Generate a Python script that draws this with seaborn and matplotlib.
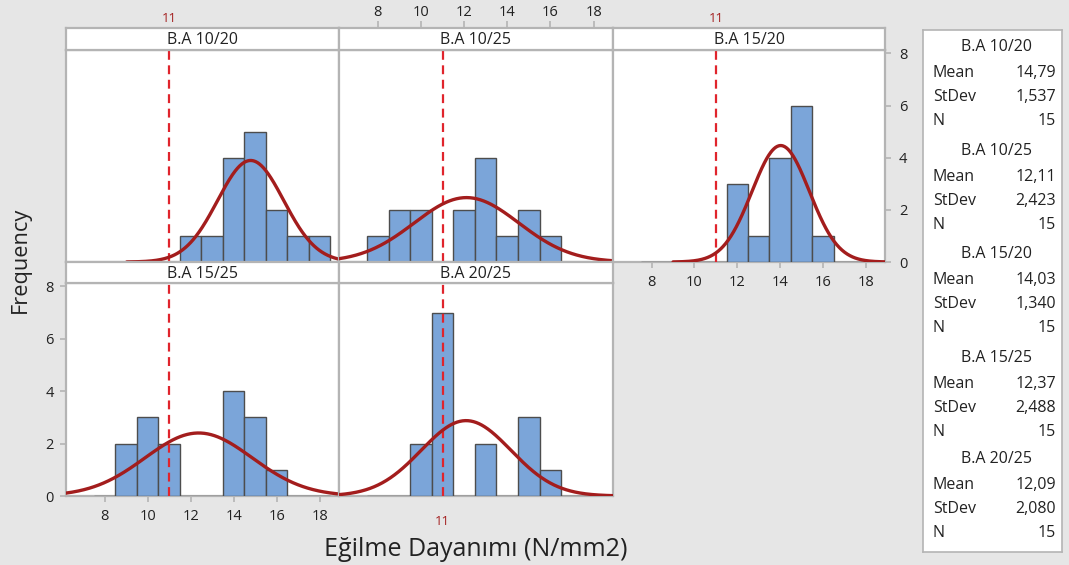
import numpy as np
import pandas as pd
import matplotlib
matplotlib.use("Agg")
import matplotlib.pyplot as plt
import seaborn as sns

# ---------------- data ----------------
groups = ["B.A 10/20", "B.A 10/25", "B.A 15/20", "B.A 15/25", "B.A 20/25"]
bin_centers = [8, 9, 10, 11, 12, 13, 14, 15, 16, 17, 18]
counts_10_20 = [0, 0, 0, 0, 1, 1, 4, 5, 2, 1, 1]
counts_10_25 = [1, 2, 2, 0, 2, 4, 1, 2, 1, 0, 0]
counts_15_20 = [0, 0, 0, 0, 3, 1, 4, 6, 1, 0, 0]
counts_15_25 = [0, 2, 3, 2, 0, 0, 4, 3, 1, 0, 0]
counts_20_25 = [0, 0, 2, 7, 0, 2, 0, 3, 1, 0, 0]
means = [14.79, 12.11, 14.03, 12.37, 12.09]
stdevs = [1.537, 2.423, 1.340, 2.488, 2.080]
ns = [15, 15, 15, 15, 15]
ref_value = 11
x_ticks = [8, 10, 12, 14, 16, 18]
y_ticks = [0, 2, 4, 6, 8]
x_label = "Eğilme Dayanımı (N/mm2)"
y_label = "Frequency"
all_counts = [counts_10_20, counts_10_25, counts_15_20, counts_15_25, counts_20_25]

# ---------------- style ----------------
sns.set_theme(style="white")
plt.rcParams["font.family"] = ["Open Sans", "DejaVu Sans"]

BG = "#e6e6e6"
BAR = "#7ba5d9"
EDGE = "#4d4d4d"
CURVE = "#a31d1d"
REF = "#e0242c"
FRAME = "#b4b4b4"
TXT = "#222222"
XLIM = (6.2, 18.9)
YLIM = (0, 8.13)

W, H = 1069, 565
fig = plt.figure(figsize=(W / 100, H / 100), dpi=100, facecolor=BG)


def frac(x0, y0, x1, y1):
    return [x0 / W, 1 - y1 / H, (x1 - x0) / W, (y1 - y0) / H]


col_px = [(66, 339), (339, 613), (613, 885)]
row_plot = [(50, 262), (283, 496)]
row_strip = [(28, 50), (262, 283)]
layout = [(0, 0), (0, 1), (0, 2), (1, 0), (1, 1)]

edges = np.array(bin_centers, dtype=float) - 0.5
edges = np.append(edges, bin_centers[-1] + 0.5)
bw = float(edges[1] - edges[0])

for i, (r, c) in enumerate(layout):
    x0, x1 = col_px[c]
    ax = fig.add_axes(frac(x0, row_plot[r][0], x1, row_plot[r][1]))
    ax.set_facecolor("white")
    df = pd.DataFrame({"value": bin_centers, "count": all_counts[i]})
    sns.histplot(data=df, x="value", weights="count", bins=list(edges), ax=ax,
                 color=BAR, edgecolor=EDGE, linewidth=1.0, alpha=1.0, zorder=2.6)
    lo = max(XLIM[0], means[i] - 3.75 * stdevs[i])
    hi = min(XLIM[1], means[i] + 3.75 * stdevs[i])
    xs = np.linspace(lo, hi, 400)
    ys = ns[i] * bw * np.exp(-0.5 * ((xs - means[i]) / stdevs[i]) ** 2) / (stdevs[i] * np.sqrt(2 * np.pi))
    sns.lineplot(x=xs, y=ys, ax=ax, color=CURVE, linewidth=2.4, zorder=4)
    ax.axvline(ref_value, color=REF, linestyle=(0, (4, 2.5)), linewidth=1.6, zorder=3)
    ax.set_xlim(XLIM)
    ax.set_ylim(YLIM)
    ax.set_xlabel("")
    ax.set_ylabel("")
    for sp in ax.spines.values():
        sp.set_color(FRAME)
        sp.set_linewidth(1.6)
    ax.tick_params(axis="both", colors=FRAME, labelcolor=TXT, labelsize=10.5,
                   length=4, width=1.2)
    ax.set_xticks([])
    ax.set_yticks([])

    if i == 2:
        ax.set_xticks(x_ticks)
        ax.tick_params(axis="x", bottom=True, labelbottom=True, pad=5)
        ax.yaxis.tick_right()
        ax.set_yticks(y_ticks)
        ax.tick_params(axis="y", right=True, labelright=True, left=False, labelleft=False, pad=6)
    if i == 3:
        ax.set_xticks(x_ticks)
        ax.tick_params(axis="x", bottom=True, labelbottom=True, pad=5)
        ax.set_yticks(y_ticks)
        ax.tick_params(axis="y", left=True, labelleft=True, pad=5)
    if i == 4:
        ax.set_xticks([ref_value])
        ax.set_xticklabels([str(ref_value)])
        ax.tick_params(axis="x", bottom=True, labelbottom=True, length=0, pad=14,
                       labelcolor=CURVE, labelsize=9.5)

    # strip axes
    sax = fig.add_axes(frac(x0, row_strip[r][0], x1, row_strip[r][1]))
    sax.set_facecolor("white")
    sax.set_xlim(XLIM)
    sax.set_ylim(0, 1)
    sax.set_yticks([])
    sax.set_xticks([])
    for sp in sax.spines.values():
        sp.set_color(FRAME)
        sp.set_linewidth(1.6)
    sax.text(0.5, 0.45, groups[i], transform=sax.transAxes, ha="center", va="center",
             fontsize=11.5, color=TXT)
    if i == 1:
        sax.set_xticks(x_ticks)
        sax.tick_params(axis="x", top=True, labeltop=True, bottom=False, labelbottom=False,
                        colors=FRAME, labelcolor=TXT, labelsize=10.5, length=5, width=1.2, pad=0.5)
    if i in (0, 2):
        sax.set_xticks([ref_value])
        sax.set_xticklabels([str(ref_value)])
        sax.tick_params(axis="x", top=True, labeltop=True, bottom=False, labelbottom=False,
                        length=0, pad=2, labelcolor=CURVE, labelsize=9.5)

# axis labels
fig.text(476 / W, 1 - 549 / H, x_label, ha="center", va="center", fontsize=18, color=TXT)
fig.text(20 / W, 1 - 260 / H, y_label, ha="center", va="center", rotation=90,
         fontsize=15.7, color=TXT)

# legend / statistics table
lax = fig.add_axes(frac(923, 30, 1062, 552))
lax.set_facecolor("white")
lax.set_xticks([])
lax.set_yticks([])
for sp in lax.spines.values():
    sp.set_color(FRAME)
    sp.set_linewidth(1.2)
lax.set_xlim(923, 1062)
lax.set_ylim(552, 30)


def fmt(v, d):
    return f"{v:.{d}f}".replace(".", ",")


block_top = [47, 151, 254, 358, 459]
for i, g in enumerate(groups):
    y = block_top[i]
    lax.text(997, y, g, ha="center", va="center", fontsize=11.5, color=TXT)
    rows = [("Mean", fmt(means[i], 2)), ("StDev", fmt(stdevs[i], 3)), ("N", str(ns[i]))]
    for k, (lab, val) in enumerate(rows):
        yy = y + 26 + 24 * k
        lax.text(933, yy, lab, ha="left", va="center", fontsize=11.5, color=TXT)
        lax.text(1056, yy, val, ha="right", va="center", fontsize=11.5, color=TXT)

fig.savefig("out.png", dpi=100, facecolor=BG)
